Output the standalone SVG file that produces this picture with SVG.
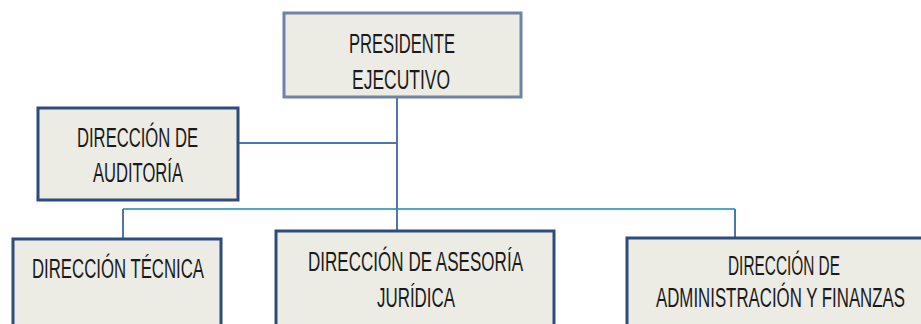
<svg xmlns="http://www.w3.org/2000/svg" width="921" height="324" viewBox="0 0 921 324">
<style>
.box{fill:#ECEBE4;stroke:#2E4B7E;stroke-width:3}
.boxp{fill:#ECEBE4;stroke:#6E83A6;stroke-width:3}
.t{font-family:"Liberation Sans Narrow","Liberation Sans",Arial,sans-serif;font-size:27px;fill:#1a1a1a;text-anchor:middle}
.c1{fill:none;stroke:#4FA6CB;stroke-width:2}
.c2{fill:none;stroke:#4E74B2;stroke-width:2}
</style>
<rect width="921" height="324" fill="#FFFFFF"/>
<g id="connectors">
<line class="c1" x1="123" y1="209" x2="735" y2="209"/>
<polyline class="c2" points="123,209 123,238"/>
<polyline class="c2" points="735,209 735,237"/>
<line class="c2" x1="397" y1="98" x2="397" y2="230"/>
<line class="c2" x1="239" y1="143" x2="397" y2="143"/>
</g>
<g id="presidente">
<rect class="boxp" x="284" y="13" width="237" height="84"/>
<text class="t" x="402" y="53" textLength="106" lengthAdjust="spacingAndGlyphs">PRESIDENTE</text>
<text class="t" x="401" y="89" textLength="98" lengthAdjust="spacingAndGlyphs">EJECUTIVO</text>
</g>
<g id="auditoria">
<rect class="box" x="38" y="108" width="200" height="92"/>
<text class="t" x="137.5" y="147" textLength="121" lengthAdjust="spacingAndGlyphs">DIRECCIÓN DE</text>
<text class="t" x="138" y="182" textLength="90" lengthAdjust="spacingAndGlyphs">AUDITORÍA</text>
</g>
<g id="tecnica">
<rect class="box" x="13" y="239" width="208" height="90"/>
<text class="t" x="118" y="278" textLength="172" lengthAdjust="spacingAndGlyphs">DIRECCIÓN TÉCNICA</text>
</g>
<g id="juridica">
<rect class="box" x="276" y="231" width="278" height="100"/>
<text class="t" x="415.5" y="271" textLength="215" lengthAdjust="spacingAndGlyphs">DIRECCIÓN DE ASESORÍA</text>
<text class="t" x="416" y="307" textLength="78" lengthAdjust="spacingAndGlyphs">JURÍDICA</text>
</g>
<g id="finanzas">
<rect class="box" x="627" y="238" width="297" height="95"/>
<text class="t" x="784" y="275" textLength="112" lengthAdjust="spacingAndGlyphs">DIRECCIÓN DE</text>
<text class="t" x="780.5" y="307" textLength="249" lengthAdjust="spacingAndGlyphs">ADMINISTRACIÓN Y FINANZAS</text>
</g>
</svg>
